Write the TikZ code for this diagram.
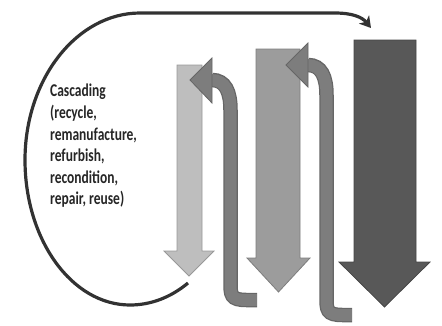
\documentclass[tikz,border=0pt]{standalone}
\usepackage{fontspec}
\usepackage{tikz}
\usetikzlibrary{arrows.meta}
\newfontfamily\calib{Carlito}
\definecolor{lightarrow}{RGB}{190,190,190}
\definecolor{midarrow}{RGB}{156,156,156}
\definecolor{darkarrow}{RGB}{88,88,88}
\definecolor{backarrow}{RGB}{125,125,125}
\definecolor{loopline}{RGB}{50,50,50}

\begin{document}
\begin{tikzpicture}[x=1pt, y=-1pt,
		returnedge/.style={line width=14.5pt, draw=black!60},
		returnfill/.style={line width=12pt, draw=backarrow},
		returnhead/.style={fill=backarrow, draw=black!60, line width=0.8pt, line join=miter}]
		\useasboundingbox (0, 0) rectangle (442, 325);
		% the three falling arrows
		\foreach \l/\r/\t/\h/\hl/\hr/\tip/\c in {177/202/65/251/164/214/276/lightarrow, 256/300/49/258/247/310/292/midarrow, 354/416/40/262/339/430/307/darkarrow}
			\filldraw[fill=\c, draw=\c!80!black, line width=0.8pt, line join=miter] (\l, \t) -- (\r, \t) -- (\r, \h) -- (\hr, \h) -- ({(\hl+\hr)/2}, \tip) -- (\hl, \h) -- (\l, \h) -- cycle;
		% the two arrows going back up
		\foreach \sx/\sy/\vx/\ty/\hx/\hy/\ha/\hb in {257/300/230.5/80/212/80/58/103, 352/315/326.5/65/308/65/43/87}
			{
			\draw[returnedge] (\sx, \sy) -- ({\vx+16}, \sy) .. controls (\vx, \sy) and (\vx, {\sy-5}) .. (\vx, {\sy-18}) -- (\vx, {\ty+30}) .. controls (\vx, {\ty+12}) and ({\vx-5}, \ty) .. (\hx, \ty);
			\draw[returnfill] ({\sx-0.2}, \sy) -- ({\vx+16}, \sy) .. controls (\vx, \sy) and (\vx, {\sy-5}) .. (\vx, {\sy-18}) -- (\vx, {\ty+30}) .. controls (\vx, {\ty+12}) and ({\vx-5}, \ty) .. ({\hx-1}, \ty);
			\filldraw[returnhead] (\hx, \ha) -- ({\hx-22}, \hy) -- (\hx, \hb) -- cycle;
			}
		% cascading loop
		\coordinate (loopstart) at (188, 283);
		\coordinate (loopend) at (371, 28);
		\draw[loopline, line width=3.2pt, -{Stealth[length=11pt, width=13pt, inset=3pt]}] (loopstart) .. controls (170, 298) and (150, 305) .. (130, 305) .. controls (72, 305) and (25, 240) .. (25, 160) .. controls (25, 79) and (77, 13) .. (140, 13) -- (335, 13) .. controls (352, 13) and (362, 17) .. (loopend);
		\node[anchor=north west, inner sep=0pt, align=left, xscale=0.75, text=black!85, font=\calib\bfseries\fontsize{18}{21.6}\selectfont] (cascade) at (50, 84) {Cascading\\(recycle,\\remanufacture,\\refurbish,\\recondition,\\repair, reuse)};
	\end{tikzpicture}
\end{document}
